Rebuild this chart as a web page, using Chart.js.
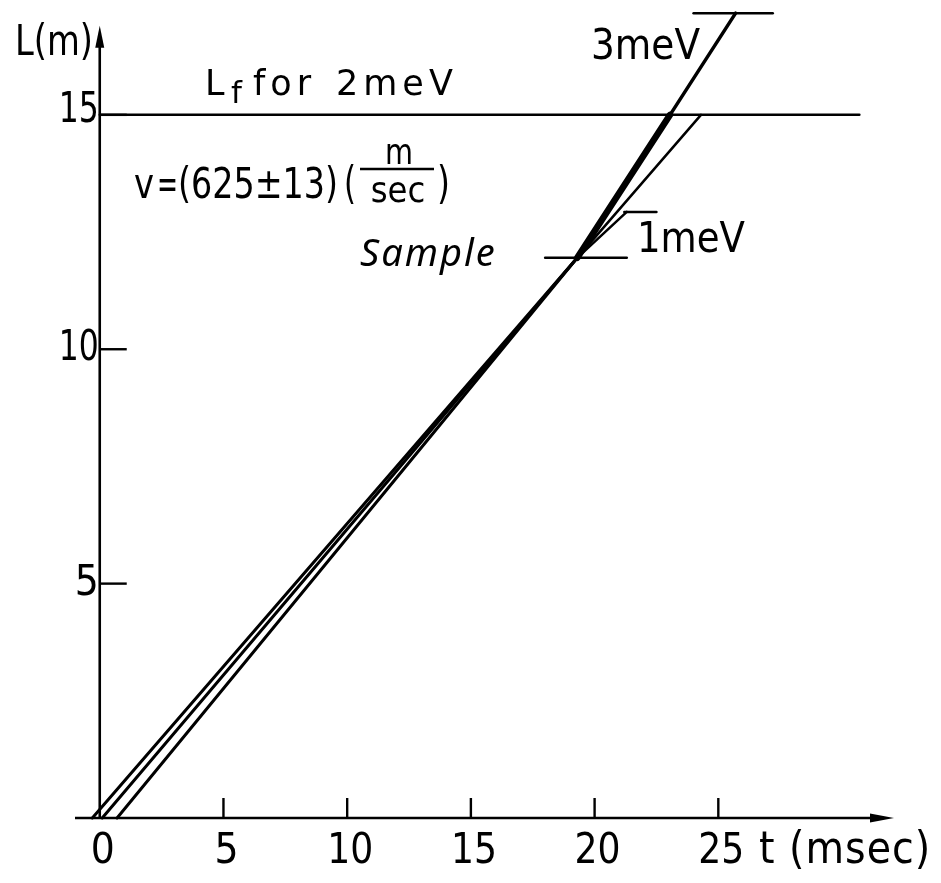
<!DOCTYPE html>
<html>
<head>
<meta charset="utf-8">
<script src="https://cdn.jsdelivr.net/npm/chart.js@4"></script>
<style>
  html, body { margin: 0; padding: 0; background: #fff; }
  canvas { display: block; }
</style>
</head>
<body>
<canvas id="tofChart" width="941" height="883"></canvas>
<script>
// flight path L (m) versus time t (msec)
const xTicks = [0, 5, 10, 15, 20, 25];
const yTicks = [5, 10, 15];

// incoming beams: start time at L = 0, all meet at the sample
const beamStartT = [-0.3, 0.1, 0.7];
const sampleT = 19.3;
const sampleL = 11.95;

// scattered beams after the sample
const t3meV = [19.3, 23.05, 25.7];
const L3meV = [11.95, 15, 17.17];
const t2meV = [19.3, 24.3];
const L2meV = [11.95, 15];
const t1meV = [19.3, 21.3];
const L1meV = [11.95, 12.93];

// flight length L_f for 2meV
const lfL = 15;
const lfT = [0, 30.7];

// short marker bars
const sampleBarT = [18.0, 21.3];
const bar1meVT = [21.2, 22.5];
const bar3meVT = [24.0, 27.2];

const seg = (xs, ys) => xs.map((x, i) => ({ x: x, y: ys[i] }));
const black = "#000";

const datasets = [];
beamStartT.forEach(t0 => {
    datasets.push({ data: seg([t0, sampleT], [0, sampleL]), borderWidth: 3 });
});
datasets.push({ data: seg(t3meV.slice(0, 2), L3meV.slice(0, 2)), borderWidth: 6.5 });
datasets.push({ data: seg(t3meV.slice(1), L3meV.slice(1)), borderWidth: 3.5 });
datasets.push({ data: seg(t2meV, L2meV), borderWidth: 2.5 });
datasets.push({ data: seg(t1meV, L1meV), borderWidth: 2.5 });
datasets.push({ data: seg(lfT, [lfL, lfL]), borderWidth: 2.5 });
datasets.push({ data: seg(sampleBarT, [sampleL, sampleL]), borderWidth: 2.5 });
datasets.push({ data: seg(bar1meVT, [L1meV[1], L1meV[1]]), borderWidth: 2.5 });
datasets.push({ data: seg(bar3meVT, [L3meV[2], L3meV[2]]), borderWidth: 2.5 });
datasets.forEach(d => {
    d.showLine = true;
    d.pointRadius = 0;
    d.borderColor = black;
    d.borderCapStyle = "round";
    d.clip = false;
});

const COND = '"DejaVu Sans Condensed", "Liberation Sans Narrow", "DejaVu Sans", sans-serif';
const PLAIN = '"DejaVu Sans", sans-serif';

// axes, arrows, ticks and lettering
const axesPlugin = {
    id: "axesPlugin",
    afterDatasetsDraw(chart) {
        const ctx = chart.ctx;
        const xs = chart.scales.x, ys = chart.scales.y;
        const x0 = xs.getPixelForValue(0), y0 = ys.getPixelForValue(0);
        ctx.save();
        ctx.strokeStyle = black;
        ctx.fillStyle = black;
        ctx.lineWidth = 2.6;

        // x axis with arrow
        const xEnd = xs.getPixelForValue(32.1);
        ctx.beginPath();
        ctx.moveTo(xs.getPixelForValue(-1), y0);
        ctx.lineTo(xEnd - 10, y0);
        ctx.stroke();
        ctx.beginPath();
        ctx.moveTo(xEnd, y0);
        ctx.lineTo(xEnd - 24, y0 - 4.5);
        ctx.lineTo(xEnd - 24, y0 + 4.5);
        ctx.closePath();
        ctx.fill();

        // y axis with arrow
        const yEnd = ys.getPixelForValue(16.9);
        ctx.beginPath();
        ctx.moveTo(x0, y0);
        ctx.lineTo(x0, yEnd + 10);
        ctx.stroke();
        ctx.beginPath();
        ctx.moveTo(x0, yEnd);
        ctx.lineTo(x0 - 4.5, yEnd + 22);
        ctx.lineTo(x0 + 4.5, yEnd + 22);
        ctx.closePath();
        ctx.fill();

        // ticks
        ctx.lineWidth = 2.4;
        xTicks.forEach(v => {
            if (v === 0) return;
            const px = xs.getPixelForValue(v);
            ctx.beginPath();
            ctx.moveTo(px, y0);
            ctx.lineTo(px, y0 - 20);
            ctx.stroke();
        });
        yTicks.forEach(v => {
            const py = ys.getPixelForValue(v);
            ctx.beginPath();
            ctx.moveTo(x0, py);
            ctx.lineTo(x0 + 27, py);
            ctx.stroke();
        });

        // tick labels
        ctx.font = "42px " + COND;
        ctx.textAlign = "center";
        ctx.textBaseline = "middle";
        xTicks.forEach(v => {
            ctx.fillText(String(v), xs.getPixelForValue(v) + 3, y0 + 34, 46);
        });
        ctx.textAlign = "right";
        yTicks.forEach(v => {
            const off = v === 15 ? -4 : 0;
            ctx.fillText(String(v), x0 - 1, ys.getPixelForValue(v) + off, 40);
        });

        // axis titles
        ctx.textAlign = "left";
        ctx.fillText("L(m)", 15, 44, 78);
        ctx.font = "44px " + COND;
        ctx.fillText("t", 759, y0 + 34);
        ctx.letterSpacing = "1px";
        ctx.fillText("(msec)", 789, y0 + 34);
        ctx.letterSpacing = "0px";

        // beam labels
        ctx.font = "42px " + COND;
        ctx.fillText("3meV", 591, 48, 109);
        ctx.fillText("1meV", 637, 241, 108);

        // L_f for 2meV
        ctx.textBaseline = "alphabetic";
        ctx.font = "35px " + PLAIN;
        ctx.fillText("L", 205, 95);
        ctx.font = "31px " + PLAIN;
        ctx.fillText("f", 231, 103);
        ctx.font = "35px " + PLAIN;
        ctx.letterSpacing = "5px";
        ctx.fillText("for", 253, 95);
        ctx.fillText("2meV", 336, 95);
        ctx.letterSpacing = "0px";

        // velocity
        ctx.font = "42px " + COND;
        ctx.fillText("v", 134, 198, 20);
        ctx.fillText("=", 157, 198, 21);
        ctx.fillText("(625\u00b113)", 178, 198, 160);
        ctx.font = "44px " + COND;
        ctx.fillText("(", 344, 198, 12);
        ctx.fillText(")", 437, 198, 13);
        ctx.font = "36px " + COND;
        ctx.textAlign = "center";
        ctx.fillText("m", 399, 164, 28);
        ctx.fillText("sec", 398, 202, 70);
        ctx.lineWidth = 2.4;
        ctx.beginPath();
        ctx.moveTo(360, 169);
        ctx.lineTo(434, 169);
        ctx.stroke();

        // sample
        ctx.font = 'italic 38px "Noto Sans", "DejaVu Sans", sans-serif';
        ctx.textAlign = "left";
        ctx.letterSpacing = "2px";
        ctx.fillText("Sample", 360, 266);
        ctx.restore();
    }
};

new Chart(document.getElementById("tofChart").getContext("2d"), {
    type: "scatter",
    data: { datasets: datasets },
    options: {
        responsive: false,
        animation: false,
        devicePixelRatio: 1,
        layout: { padding: { left: 75, right: 0, top: 0, bottom: 65 } },
        plugins: { legend: { display: false }, tooltip: { enabled: false } },
        scales: {
            x: { type: "linear", min: -1, max: 34, display: false },
            y: { type: "linear", min: 0, max: 17.45, display: false }
        }
    },
    plugins: [axesPlugin]
});
</script>
</body>
</html>
